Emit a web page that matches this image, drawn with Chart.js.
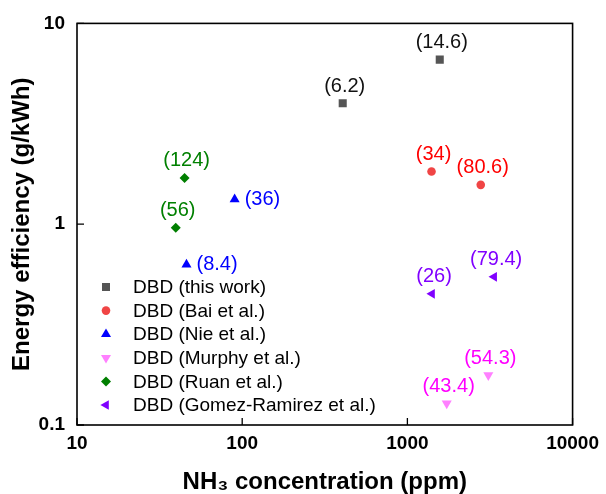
<!DOCTYPE html>
<html>
<head>
<meta charset="utf-8">
<script src="https://cdn.jsdelivr.net/npm/chart.js@4"></script>
<style>
  html, body { margin: 0; padding: 0; background: #fff; }
</style>
</head>
<body>
<canvas id="grafico" width="606" height="494"></canvas>
<script>
// Ticks de los ejes
const xTicks = [10, 100, 1000, 10000];
const yTicks = [0.1, 1, 10];

// Series (concentración NH3 en ppm, eficiencia en g/kWh, etiqueta)
const nombres = ['DBD (this work)', 'DBD (Bai et al.)', 'DBD (Nie et al.)',
  'DBD (Murphy et al.)', 'DBD (Ruan et al.)', 'DBD (Gomez-Ramirez et al.)'];

const thisWorkX = [406, 1570];
const thisWorkY = [4.0, 6.6];
const thisWorkLbl = ['(6.2)', '(14.6)'];

const baiX = [1400, 2780];
const baiY = [1.83, 1.57];
const baiLbl = ['(34)', '(80.6)'];

const nieX = [90, 46];
const nieY = [1.33, 0.63];
const nieLbl = ['(36)', '(8.4)'];

const murphyX = [1730, 3090];
const murphyY = [0.128, 0.177];
const murphyLbl = ['(43.4)', '(54.3)'];

const ruanX = [44.8, 39.6];
const ruanY = [1.70, 0.96];
const ruanLbl = ['(124)', '(56)'];

const gomezX = [1410, 3350];
const gomezY = [0.45, 0.547];
const gomezLbl = ['(26)', '(79.4)'];

const puntos = (xs, ys) => xs.map((x, i) => ({ x, y: ys[i] }));

function serie(idx, xs, ys, lbls, estilo) {
  return Object.assign({
    label: nombres[idx],
    data: puntos(xs, ys),
    etiquetas: lbls,
    pointBorderWidth: 0,
    pointHoverRadius: 6
  }, estilo);
}

const datasets = [
  serie(0, thisWorkX, thisWorkY, thisWorkLbl, { pointStyle: 'rect', pointRadius: 5.7, backgroundColor: '#555555', borderColor: '#444444', colorTexto: '#111111' }),
  serie(1, baiX, baiY, baiLbl, { pointStyle: 'circle', pointRadius: 4.3, backgroundColor: '#f04545', borderColor: '#f04545', colorTexto: '#ff0000' }),
  serie(2, nieX, nieY, nieLbl, { pointStyle: 'triangle', pointRadius: 5.8, backgroundColor: '#0000ff', borderColor: '#0000ff', colorTexto: '#0000ff', lado: 'right' }),
  serie(3, murphyX, murphyY, murphyLbl, { pointStyle: 'triangle', pointRotation: 180, pointRadius: 5.8, backgroundColor: '#ff80ff', borderColor: '#ff80ff', colorTexto: '#ff00ff' }),
  serie(4, ruanX, ruanY, ruanLbl, { pointStyle: 'rectRot', pointRadius: 5, backgroundColor: '#007f00', borderColor: '#007f00', colorTexto: '#008000' }),
  serie(5, gomezX, gomezY, gomezLbl, { pointStyle: 'triangle', pointRotation: 270, pointRadius: 5.6, backgroundColor: '#8000ff', borderColor: '#8000ff', colorTexto: '#8000ff' })
];

const FUENTE = '"Liberation Sans", Arial, sans-serif';

// Etiquetas de cada punto
const etiquetasPlugin = {
  id: 'etiquetas',
  afterDatasetsDraw(chart) {
    const ctx = chart.ctx;
    ctx.save();
    ctx.font = '20px ' + FUENTE;
    chart.data.datasets.forEach((ds, i) => {
      const meta = chart.getDatasetMeta(i);
      ctx.fillStyle = ds.colorTexto;
      meta.data.forEach((pt, j) => {
        if (ds.lado === 'right') {
          ctx.textAlign = 'left';
          ctx.textBaseline = 'middle';
          ctx.fillText(ds.etiquetas[j], pt.x + 10, pt.y);
        } else {
          ctx.textAlign = 'center';
          ctx.textBaseline = 'middle';
          ctx.fillText(ds.etiquetas[j], pt.x + 2, pt.y - 17);
        }
      });
    });
    ctx.restore();
  }
};

// Marco y ticks hacia adentro
const marcoPlugin = {
  id: 'marco',
  afterDraw(chart) {
    const { ctx, chartArea: a, scales } = chart;
    ctx.save();
    ctx.strokeStyle = '#000';
    ctx.lineWidth = 1.6;
    ctx.strokeRect(a.left, a.top, a.right - a.left, a.bottom - a.top);
    ctx.lineWidth = 1.3;
    ctx.beginPath();
    xTicks.forEach(v => {
      const x = scales.x.getPixelForValue(v);
      ctx.moveTo(x, a.bottom);
      ctx.lineTo(x, a.bottom - 7);
    });
    yTicks.forEach(v => {
      const y = scales.y.getPixelForValue(v);
      ctx.moveTo(a.left, y);
      ctx.lineTo(a.left + 7, y);
    });
    ctx.stroke();
    ctx.restore();
  }
};

// Leyenda dentro del área del gráfico
const leyendaPlugin = {
  id: 'leyendaDentro',
  afterDraw(chart) {
    const { ctx, chartArea: a } = chart;
    ctx.save();
    ctx.font = '19px ' + FUENTE;
    ctx.textAlign = 'left';
    ctx.textBaseline = 'middle';
    chart.data.datasets.forEach((ds, i) => {
      const y = 287 + i * 23.6;
      const x = a.left + 29;
      ctx.fillStyle = ds.backgroundColor;
      ctx.strokeStyle = ds.borderColor;
      Chart.helpers.drawPoint(ctx, {
        pointStyle: ds.pointStyle,
        rotation: ds.pointRotation || 0,
        radius: ds.pointRadius,
        borderWidth: 0
      }, x, y);
      ctx.fillStyle = '#000';
      ctx.fillText(ds.label, a.left + 56, y + 1);
    });
    ctx.restore();
  }
};

new Chart(document.getElementById('grafico'), {
  type: 'scatter',
  data: { datasets },
  options: {
    responsive: false,
    animation: false,
    layout: { padding: { top: 23, right: 29, left: 0, bottom: 0 } },
    plugins: {
      legend: { display: false },
      tooltip: { enabled: false }
    },
    scales: {
      x: {
        type: 'logarithmic',
        min: 10,
        max: 10000,
        afterBuildTicks: s => { s.ticks = xTicks.map(v => ({ value: v })); },
        afterFit: s => { s.height = 69; },
        grid: { display: false, drawTicks: false },
        border: { display: false },
        ticks: {
          callback: v => String(v),
          autoSkip: false,
          maxRotation: 0,
          padding: 7,
          color: '#000',
          font: { family: FUENTE, size: 19, weight: 'bold' }
        },
        title: {
          display: true,
          text: 'NH\u2083 concentration (ppm)',
          color: '#000',
          padding: 0,
          font: { family: FUENTE, size: 24, weight: 'bold', lineHeight: 1 }
        }
      },
      y: {
        type: 'logarithmic',
        min: 0.1,
        max: 10,
        afterBuildTicks: s => { s.ticks = yTicks.map(v => ({ value: v })); },
        afterFit: s => { s.width = 77; },
        grid: { display: false, drawTicks: false },
        border: { display: false },
        ticks: {
          callback: v => String(v),
          autoSkip: false,
          padding: 12,
          color: '#000',
          font: { family: FUENTE, size: 19, weight: 'bold' }
        },
        title: {
          display: true,
          text: 'Energy efficiency (g/kWh)',
          color: '#000',
          padding: { top: 10, bottom: 0 },
          font: { family: FUENTE, size: 24, weight: 'bold', lineHeight: 1 }
        }
      }
    }
  },
  plugins: [etiquetasPlugin, marcoPlugin, leyendaPlugin]
});
</script>
</body>
</html>
